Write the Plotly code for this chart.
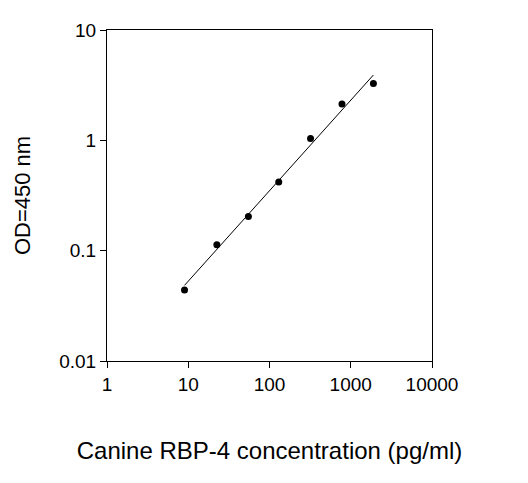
import numpy as np
import plotly.graph_objects as go

conc = [9, 22.5, 55, 130, 320, 780, 1900]
od = [0.044, 0.113, 0.204, 0.42, 1.04, 2.13, 3.27]
x_ticks = [1, 10, 100, 1000, 10000]
x_labels = ["1", "10", "100", "1000", "10000"]
y_ticks = [0.01, 0.1, 1, 10]
y_labels = ["0.01", "0.1", "1", "10"]

lx = np.log10(conc); ly = np.log10(od)
m, c = np.polyfit(lx, ly, 1)
fx = np.array([conc[0], conc[-1]])
fy = 10 ** (m * np.log10(fx) + c)

fig = go.Figure()
fig.add_trace(go.Scatter(x=fx, y=fy, mode="lines", line=dict(color="black", width=1), showlegend=False))
fig.add_trace(go.Scatter(x=conc, y=od, mode="markers", marker=dict(color="black", size=7), showlegend=False))
ax = dict(type="log", showgrid=False, zeroline=False, showline=True, linecolor="black", linewidth=1,
          mirror=True, ticks="outside", ticklen=6, tickcolor="black", tickfont=dict(size=19, color="black"))
fig.update_xaxes(**ax, range=[0, 4], tickvals=x_ticks, ticktext=x_labels,
                 title=dict(text="Canine RBP-4 concentration (pg/ml)", font=dict(size=24, color="black"), standoff=48))
fig.update_yaxes(**ax, range=[-2, 1], tickvals=y_ticks, ticktext=y_labels,
                 title=dict(text="OD=450 nm", font=dict(size=22, color="black"), standoff=22))
fig.update_layout(width=528, height=483, margin=dict(l=99, r=104, t=15, b=130),
                  plot_bgcolor="white", paper_bgcolor="white", font=dict(family="Arial, Liberation Sans"))
fig.write_html("out.html")
